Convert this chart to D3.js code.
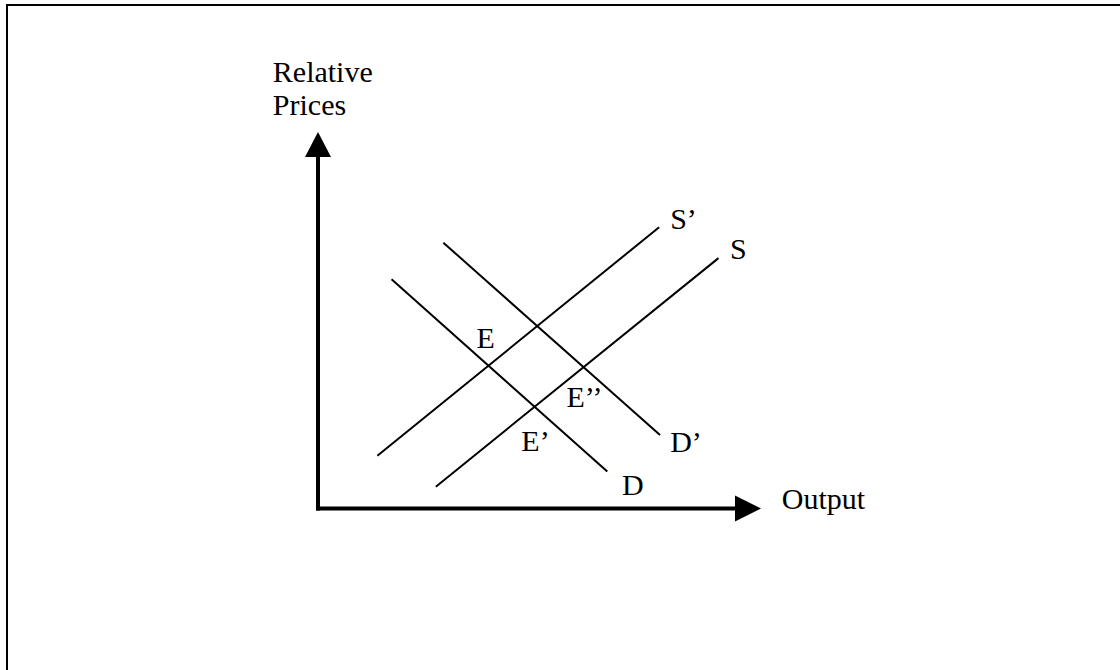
<!DOCTYPE html>
<html>
<head>
<meta charset="utf-8">
<script src="https://cdn.jsdelivr.net/npm/d3@7"></script>
<style>
  html, body { margin: 0; padding: 0; background: #fff; overflow: hidden; }
  text { font-family: "Liberation Serif", "Times New Roman", serif; fill: #000; }
</style>
</head>
<body>
<div id="chart"></div>
<script>
// curves: [x0, y0, x1, y1] in output / price units (0-100)
const curveNames = ["S", "S’", "D", "D’"];
const curveStarts = [[26.6, 5.8], [13.4, 14.0], [16.6, 60.9], [28.3, 70.6]];
const curveEnds = [[90.4, 66.5], [77.0, 74.7], [65.3, 9.8], [77.2, 19.5]];

// point labels at text start / baseline
const labelTexts = ["S’", "S", "E", "E’’", "E’", "D’", "D"];
const labelPos = [[79.5, 74.2], [93.0, 66.3], [35.8, 42.6], [56.1, 27.0], [45.9, 15.4], [79.5, 15.1], [68.6, 3.6]];

const axisTitles = ["Output", "Relative", "Prices"];
const axisTitlePos = [[104.7, -0.1], [-10.2, 113.4], [-10.2, 104.5]];

const width = 1120;
const height = 670;

const svg = d3.select("#chart").append("svg")
    .attr("width", width)
    .attr("height", height);

// frame (only top and left edges fall inside the picture)
svg.append("rect")
    .attr("x", 7)
    .attr("y", 5)
    .attr("width", 1200)
    .attr("height", 800)
    .attr("fill", "none")
    .attr("stroke", "#000")
    .attr("stroke-width", 2);

const x = d3.scaleLinear().domain([0, 100]).range([318, 761]);
const y = d3.scaleLinear().domain([0, 100]).range([508.5, 132]);

// axes
svg.append("line")
    .attr("x1", x(0)).attr("y1", y(0) + 2)
    .attr("x2", x(0)).attr("y2", y(100) + 20)
    .attr("stroke", "#000")
    .attr("stroke-width", 4);

svg.append("line")
    .attr("x1", x(0) - 2).attr("y1", y(0))
    .attr("x2", x(100) - 20).attr("y2", y(0))
    .attr("stroke", "#000")
    .attr("stroke-width", 4);

// arrow heads
svg.append("path")
    .attr("d", `M${x(0)},${y(100)} L${x(0) + 13},${y(100) + 25} L${x(0) - 13},${y(100) + 25} Z`)
    .attr("fill", "#000");

svg.append("path")
    .attr("d", `M${x(100)},${y(0)} L${x(100) - 26},${y(0) - 13} L${x(100) - 26},${y(0) + 13} Z`)
    .attr("fill", "#000");

// supply and demand curves
const line = d3.line()
    .x(d => x(d[0]))
    .y(d => y(d[1]));

svg.selectAll(".curve")
    .data(curveNames.map((n, i) => [curveStarts[i], curveEnds[i]]))
    .enter()
    .append("path")
    .attr("class", "curve")
    .attr("d", line)
    .attr("fill", "none")
    .attr("stroke", "#000")
    .attr("stroke-width", 2);

svg.selectAll(".label")
    .data(labelTexts)
    .enter()
    .append("text")
    .attr("class", "label")
    .attr("x", (d, i) => x(labelPos[i][0]))
    .attr("y", (d, i) => y(labelPos[i][1]))
    .style("font-size", "30px")
    .text(d => d);

svg.selectAll(".axis-title")
    .data(axisTitles)
    .enter()
    .append("text")
    .attr("class", "axis-title")
    .attr("x", (d, i) => x(axisTitlePos[i][0]))
    .attr("y", (d, i) => y(axisTitlePos[i][1]))
    .style("font-size", "30px")
    .text(d => d);
</script>
</body>
</html>
